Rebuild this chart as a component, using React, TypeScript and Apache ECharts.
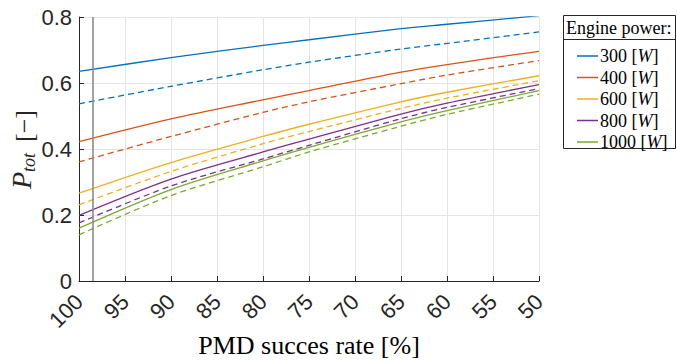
import React, { useEffect, useRef } from "react";
import * as echarts from "echarts";

// PMD success rate [%] sample points (x axis, reversed 100 -> 50)
const successRate = [100, 90, 80, 75, 65, 60, 50];
const xTicks = [100, 95, 90, 85, 80, 75, 70, 65, 60, 55, 50];
const yTicks = [0, 0.2, 0.4, 0.6, 0.8];
const powerLabels = ["300 [W]", "400 [W]", "600 [W]", "800 [W]", "1000 [W]"];
const colors = ["#0072BD", "#D95319", "#EDB120", "#7E2F8E", "#77AC30"];
const xAxisTitle = "PMD succes rate [%]";

// solid curves
const p300 = [0.635, 0.677, 0.714, 0.731, 0.765, 0.778, 0.804];
const p400 = [0.422, 0.491, 0.549, 0.577, 0.633, 0.656, 0.696];
const p600 = [0.266, 0.359, 0.438, 0.475, 0.543, 0.572, 0.622];
const p800 = [0.199, 0.309, 0.391, 0.430, 0.506, 0.539, 0.595];
const p1000 = [0.160, 0.277, 0.364, 0.405, 0.482, 0.516, 0.577];
// dashed curves
const d300 = [0.537, 0.590, 0.640, 0.663, 0.703, 0.720, 0.755];
const d400 = [0.361, 0.438, 0.511, 0.543, 0.598, 0.624, 0.668];
const d600 = [0.231, 0.332, 0.416, 0.453, 0.523, 0.554, 0.607];
const d800 = [0.176, 0.288, 0.370, 0.411, 0.492, 0.526, 0.583];
const d1000 = [0.140, 0.259, 0.346, 0.391, 0.469, 0.505, 0.566];

const markerRate = 98.5;

const solidSets = [p300, p400, p600, p800, p1000];
const dashedSets = [d300, d400, d600, d800, d1000];

const SERIF = "'Liberation Serif', 'Times New Roman', serif";
const SANS = "'Liberation Sans', Arial, Helvetica, sans-serif";

export default function App() {
  const ref = useRef<HTMLDivElement>(null);
  useEffect(() => {
    if (!ref.current) return;
    const chart = echarts.init(ref.current, null, { renderer: "svg" });
    const series: any[] = [];
    solidSets.forEach((vals, i) => {
      series.push({
        name: powerLabels[i],
        type: "line",
        data: successRate.map((x, k) => [x, vals[k]]),
        showSymbol: false,
        symbol: "none",
        smooth: 0.3,
        lineStyle: { color: colors[i], width: 1.3, type: "solid" },
        itemStyle: { color: colors[i] },
        z: 3,
        ...(i === 0
          ? {
              markLine: {
                silent: true,
                symbol: ["none", "none"],
                label: { show: false },
                lineStyle: { color: "#8c8c8c", width: 1.6, type: "solid" },
                data: [{ xAxis: markerRate }],
              },
            }
          : {}),
      });
    });
    dashedSets.forEach((vals, i) => {
      series.push({
        name: powerLabels[i] + " (dashed)",
        type: "line",
        data: successRate.map((x, k) => [x, vals[k]]),
        showSymbol: false,
        symbol: "none",
        smooth: 0.3,
        lineStyle: { color: colors[i], width: 1.3, type: [6, 4] },
        itemStyle: { color: colors[i] },
        z: 3,
      });
    });

    chart.setOption({
      animation: false,
      backgroundColor: "#ffffff",
      grid: {
        left: 79,
        top: 17,
        width: 460,
        height: 264,
        containLabel: false,
        outerBoundsMode: "none",
      },
      xAxis: {
        type: "value",
        min: 50,
        max: 100,
        interval: 5,
        inverse: true,
        axisLine: { show: true, onZero: false, lineStyle: { color: "#262626", width: 1 } },
        axisTick: { show: true, inside: true, length: 5, lineStyle: { color: "#262626" } },
        axisLabel: {
          rotate: 45,
          margin: 17,
          fontFamily: SANS,
          fontSize: 22,
          color: "#262626",
          formatter: (v: number) => (xTicks.includes(v) ? String(v) : ""),
        },
        splitLine: { show: true, lineStyle: { color: "#e4e4e4", width: 1 } },
      },
      yAxis: {
        type: "value",
        min: 0,
        max: 0.8,
        interval: 0.2,
        axisLine: { show: true, onZero: false, lineStyle: { color: "#262626", width: 1 } },
        axisTick: { show: true, inside: true, length: 5, lineStyle: { color: "#262626" } },
        axisLabel: {
          margin: 7,
          fontFamily: SANS,
          fontSize: 22,
          color: "#262626",
          formatter: (v: number) => {
            const t = yTicks.find((y) => Math.abs(y - v) < 1e-9);
            return t === undefined ? "" : t === 0 ? "0" : t.toFixed(1);
          },
        },
        splitLine: { show: true, lineStyle: { color: "#e4e4e4", width: 1 } },
      },
      legend: {
        data: powerLabels,
        orient: "vertical",
        left: 572,
        top: 41,
        icon: "rect",
        itemWidth: 21,
        itemHeight: 1.5,
        itemGap: 1.5,
        selectedMode: false,
        formatter: (name: string) => name.replace("[W]", "[{i|W}]"),
        textStyle: {
          fontFamily: SERIF,
          fontSize: 18,
          lineHeight: 20,
          color: "#000",
          padding: [0, 0, 0, -3],
          rich: {
            i: { fontFamily: SERIF, fontSize: 18, lineHeight: 20, fontStyle: "italic", color: "#000" },
          },
        },
      },
      graphic: [
        {
          type: "rect",
          z: -1,
          shape: { x: 563.5, y: 15.5, width: 112, height: 133 },
          style: { fill: "#fff", stroke: "#262626", lineWidth: 1 },
          silent: true,
        },
        {
          type: "line",
          shape: { x1: 563.5, y1: 39.5, x2: 675.5, y2: 39.5 },
          style: { stroke: "#262626", lineWidth: 1 },
          silent: true,
        },
        {
          type: "text",
          x: 566,
          y: 27.5,
          style: {
            text: "Engine power:",
            font: `18px ${SERIF}`,
            fill: "#000",
            align: "left",
            verticalAlign: "middle",
          },
          silent: true,
        },
        {
          type: "text",
          x: 309,
          y: 345,
          style: {
            text: xAxisTitle,
            font: `26px ${SERIF}`,
            fill: "#000",
            align: "center",
            verticalAlign: "middle",
          },
          silent: true,
        },
        {
          type: "group",
          x: 0,
          y: 189,
          rotation: Math.PI / 2,
          silent: true,
          children: [
            {
              type: "text",
              x: 0,
              y: 21,
              style: {
                text: "P",
                font: `italic 28px ${SERIF}`,
                fill: "#262626",
                align: "left",
                verticalAlign: "middle",
              },
            },
            {
              type: "text",
              x: 17,
              y: 29,
              style: {
                text: "tot",
                font: `italic 18px ${SERIF}`,
                fill: "#262626",
                align: "left",
                verticalAlign: "middle",
              },
            },
            {
              type: "text",
              x: 47,
              y: 24,
              style: {
                text: "[\u2212]",
                font: `26px ${SERIF}`,
                fill: "#262626",
                align: "left",
                verticalAlign: "middle",
              },
            },
          ],
        },
      ],
      series,
    });
    return () => chart.dispose();
  }, []);
  return <div ref={ref} style={{ width: 677, height: 361, position: "absolute", left: 0, top: 0 }} />;
}
